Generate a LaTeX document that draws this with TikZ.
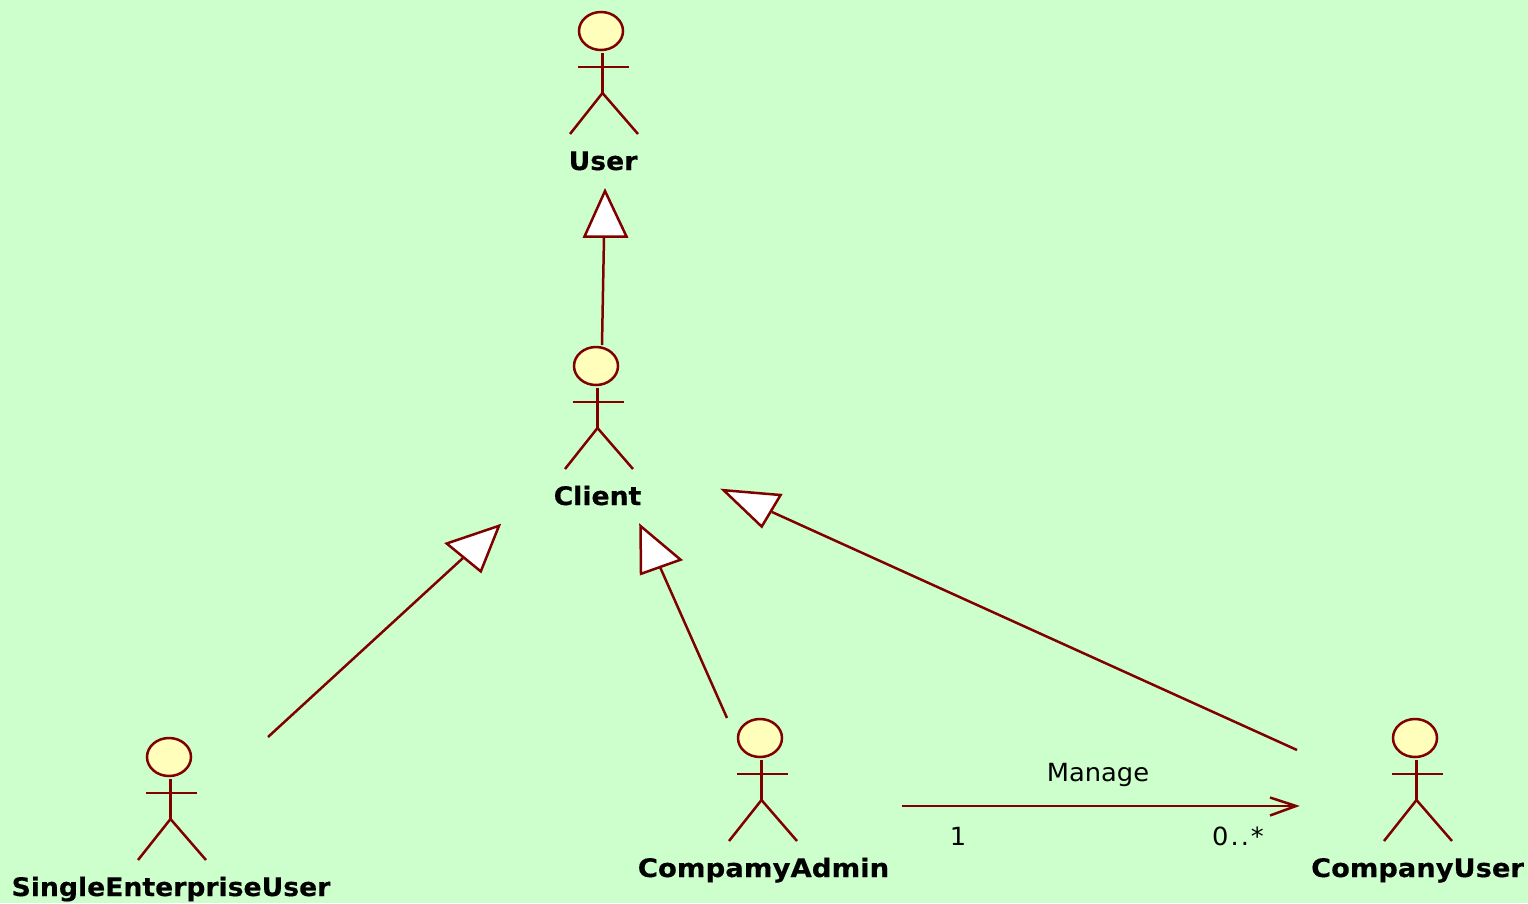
\documentclass[tikz,border=0pt]{standalone}
\usepackage{fontspec}
\setmainfont[BoldFeatures={FakeStretch=1.045,FakeBold=0.4},FakeStretch=1.03]{DejaVu Sans}
\usetikzlibrary{shapes.geometric}
\definecolor{bgc}{HTML}{CCFFCC}
\definecolor{linec}{HTML}{800000}
\definecolor{headc}{HTML}{FFFFBB}
\tikzset{
  x=1pt,y=-1pt,
  lin/.style={draw=linec,line width=2.5pt},
  headshape/.style={ellipse,lin,fill=headc,inner sep=0pt,minimum width=44pt,minimum height=38pt},
  actorlabel/.style={font=\fontsize{25.5}{30}\selectfont\bfseries,text=black,inner sep=0pt,anchor=base},
  plainlabel/.style={font=\fontsize{25}{30}\selectfont,text=black,inner sep=0pt,anchor=base},
  genhead/.style={lin,fill=white,line join=miter,miter limit=10}
}
\newcommand{\actorfig}[5]{%
  \node[headshape] (#1) at (#2,#3) {};
  \draw[lin] (#2+1.5,#3+22) coordinate (#1neck) -- (#2+1.5,#3+62) coordinate (#1hip);
  \draw[lin] (#2-23,#3+36) -- (#2+28,#3+36);
  \draw[lin] (#2-31,#3+103) -- (#1hip) -- (#2+37,#3+103);
  \node[actorlabel] (#1lab) at (#2+#5,#3+139) {#4};
}
\begin{document}
\begin{tikzpicture}
\useasboundingbox (0,0) rectangle (1528,903);
\fill[bgc] (0,0) rectangle (1528,903);
\actorfig{user}{601}{31}{User}{2}
\actorfig{client}{596}{366}{Client}{1.5}
\actorfig{single}{169}{757}{SingleEnterpriseUser}{2}
\actorfig{admin}{760}{738}{\scalebox{1.033}[1]{CompamyAdmin}}{3.5}
\actorfig{cuser}{1415}{738}{\scalebox{1.024}[1]{CompanyUser}}{2.5}

\coordinate (c1s) at (602,345); \coordinate (c1e) at (604,237);
\coordinate (c2s) at (268,737); \coordinate (c2e) at (463,558);
\coordinate (c3s) at (727,718); \coordinate (c3e) at (660,567);
\coordinate (c4s) at (1297,750); \coordinate (c4e) at (772,512);
\coordinate (c5s) at (902,806); \coordinate (c5e) at (1296,806);
\draw[lin] (c1s) -- (c1e);
\draw[lin] (c2s) -- (c2e);
\draw[lin] (c3s) -- (c3e);
\draw[lin] (c4s) -- (c4e);
\draw[lin] (c5s) -- (c5e);
\draw[lin,line join=miter] (1270,797.5) -- (c5e) -- (1270,815.5);
\draw[genhead] (605,191) -- (584.5,236.5) -- (626.5,236.5) -- cycle;
\draw[genhead] (499,525.8) -- (446.7,543.5) -- (480.8,571.4) -- cycle;
\draw[genhead] (640.5,526) -- (641,573.8) -- (680.6,559.7) -- cycle;
\draw[genhead] (723.6,490.2) -- (780.6,495) -- (761.7,526.6) -- cycle;
\node[plainlabel] (mg) at (1098,781) {Manage};
\node[plainlabel] (m1) at (958,845) {1};
\node[plainlabel] (m2) at (1238,845) {0\kern2pt.\kern2pt.\kern2pt*};
\end{tikzpicture}
\end{document}
